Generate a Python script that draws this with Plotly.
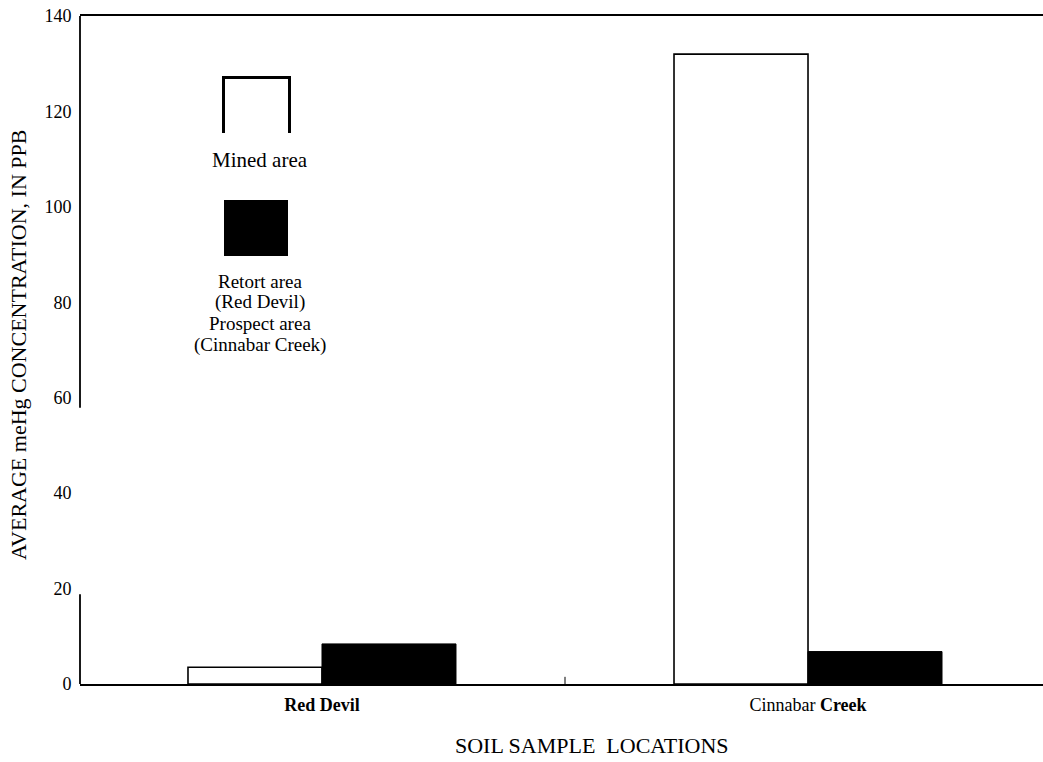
import plotly.graph_objects as go

# Data
locations = ["Red Devil", "Cinnabar Creek"]
location_labels = ["<b>Red Devil</b>", "Cinnabar <b>Creek</b>"]
mined_area = [3.5, 132.0]
retort_prospect_area = [8.4, 6.8]
y_ticks = [0, 20, 40, 60, 80, 100, 120, 140]
legend_mined = "Mined area"
legend_other = ["Retort area", "(Red Devil)", "Prospect area", "(Cinnabar Creek)"]

W, H = 1043, 762
ML, MR, MT, MB = 80, 0, 16, 78
PW, PH = W - ML - MR, H - MT - MB

FONT = "Liberation Serif"


def px_x(px):
    return (px - ML) / PW


def px_y(py):
    return (H - MB - py) / PH


x_pos = list(range(len(locations)))
bar_w = 0.2757

fig = go.Figure()
fig.add_trace(go.Bar(
    x=x_pos, y=mined_area, width=bar_w, offset=-bar_w,
    marker=dict(color="white", line=dict(color="black", width=1.6)),
    name="Mined area", showlegend=False,
))
fig.add_trace(go.Bar(
    x=x_pos, y=retort_prospect_area, width=bar_w, offset=0,
    marker=dict(color="black", line=dict(color="black", width=1)),
    name="Retort area / Prospect area", showlegend=False,
))

shapes = []
# y axis line (broken between roughly 19 and 58)
for y0, y1 in [(0, 18.8), (57.9, 140)]:
    shapes.append(dict(type="line", xref="paper", yref="y", x0=0, x1=0,
                       y0=y0, y1=y1, line=dict(color="black", width=1.8)))
# divider mark between location groups
shapes.append(dict(type="line", xref="x", yref="y", x0=0.5, x1=0.5, y0=0, y1=1.5,
                   line=dict(color="black", width=1)))
# legend swatches
lx0, lx1, ly0, ly1 = px_x(223.5), px_x(289.5), px_y(77.5), px_y(133)
shapes.append(dict(type="path", xref="paper", yref="paper",
                   path=f"M {lx0},{ly1} L {lx0},{ly0} L {lx1},{ly0} L {lx1},{ly1}",
                   line=dict(color="black", width=3)))
shapes.append(dict(type="rect", xref="paper", yref="paper",
                   x0=px_x(224), x1=px_x(288), y0=px_y(256), y1=px_y(200),
                   fillcolor="black", line=dict(width=0)))

annotations = []
legend_cx = px_x(260)
annotations.append(dict(text=legend_mined, xref="paper", yref="paper", x=legend_cx, y=px_y(160),
                        xanchor="center", yanchor="middle", showarrow=False,
                        font=dict(family=FONT, size=21, color="black")))
for i, t in enumerate(legend_other):
    annotations.append(dict(text=t, xref="paper", yref="paper", x=legend_cx,
                            y=px_y(281 + 21.4 * i), xanchor="center", yanchor="middle",
                            showarrow=False, font=dict(family=FONT, size=19, color="black")))
annotations.append(dict(text="AVERAGE meHg CONCENTRATION, IN PPB", xref="paper", yref="paper",
                        x=px_x(18), y=px_y(345), textangle=-90, xanchor="center",
                        yanchor="middle", showarrow=False,
                        font=dict(family=FONT, size=22, color="black")))
annotations.append(dict(text="SOIL SAMPLE  LOCATIONS", xref="paper", yref="paper",
                        x=px_x(592), y=px_y(745), xanchor="center", yanchor="middle",
                        showarrow=False, font=dict(family=FONT, size=22, color="black")))

fig.update_layout(
    width=W, height=H,
    margin=dict(l=ML, r=MR, t=MT, b=MB, pad=0),
    paper_bgcolor="white", plot_bgcolor="white",
    barmode="overlay",
    shapes=shapes, annotations=annotations,
    font=dict(family=FONT, color="black"),
    xaxis=dict(
        range=[-0.4979, 1.4835], tickvals=x_pos, ticktext=location_labels,
        showgrid=False, zeroline=False, showline=True, linecolor="black", linewidth=1.6,
        mirror=True, ticks="outside", ticklen=4, tickcolor="rgba(0,0,0,0)",
        tickfont=dict(family=FONT, size=18, color="black"),
    ),
    yaxis=dict(
        range=[0, 140], tickvals=y_ticks, showgrid=False, zeroline=False, showline=False,
        ticks="outside", ticklen=4, tickcolor="rgba(0,0,0,0)",
        tickfont=dict(family=FONT, size=18, color="black"),
    ),
)

fig.write_html("out.html")
